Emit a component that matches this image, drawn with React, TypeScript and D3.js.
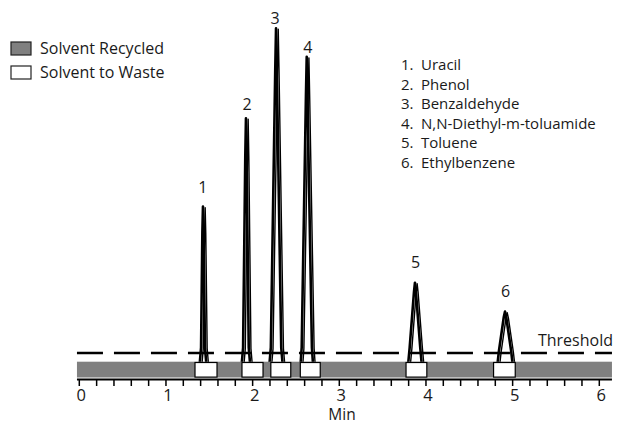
import React from 'react';
import * as d3 from 'd3';

// ---- data ----
const peakNumbers = ['1', '2', '3', '4', '5', '6'];
const compoundNames = ['Uracil', 'Phenol', 'Benzaldehyde', 'N,N-Diethyl-m-toluamide', 'Toluene', 'Ethylbenzene'];
// chromatogram trace points per peak: [time (min), signal]
const peak1: [number, number][] = [[1.385, 0], [1.405, 6], [1.42, 40], [1.427, 47.5], [1.434, 40], [1.45, 6], [1.47, 0]];
const peak2: [number, number][] = [[1.87, 0], [1.89, 6], [1.915, 62], [1.923, 73.5], [1.931, 62], [1.955, 6], [1.975, 0]];
const peak3: [number, number][] = [[2.19, 0], [2.21, 6], [2.261, 88], [2.27, 100], [2.279, 88], [2.33, 6], [2.35, 0]];
const peak4: [number, number][] = [[2.55, 0], [2.566, 6], [2.615, 80], [2.624, 91.6], [2.633, 80], [2.684, 6], [2.70, 0]];
const peak5: [number, number][] = [[3.79, 0], [3.812, 6], [3.862, 22.5], [3.873, 25.1], [3.884, 22.5], [3.934, 6], [3.955, 0]];
const peak6: [number, number][] = [[4.82, 0], [4.842, 5], [4.898, 15], [4.912, 16.6], [4.926, 15], [4.983, 5], [5.005, 0]];
const peakTraces = [peak1, peak2, peak3, peak4, peak5, peak6];
// peak label anchor: [time, signal]
const peakLabelPos: [number, number][] = [[1.424, 53.4], [1.935, 77.7], [2.258, 103.1], [2.638, 94.6], [3.881, 31.3], [4.92, 22.8]];
// solvent-to-waste windows [start, end] in min
const wasteWindows: [number, number][] = [[1.335, 1.589], [1.877, 2.12], [2.21, 2.44], [2.55, 2.78], [3.77, 4.01], [4.78, 5.03]];
const thresholdLevel = 4.4;
const majorTicks = [0, 1, 2, 3, 4, 5, 6];
const minorTicks = [0, 0.2, 0.4, 0.6, 0.8, 1, 1.2, 1.4, 1.6, 1.8, 2, 2.2, 2.4, 2.6, 2.8, 3, 3.2, 3.4, 3.6, 3.8, 4, 4.2, 4.4, 4.6, 4.8, 5, 5.2, 5.4, 5.6, 5.8, 6];
const axisDomain: [number, number] = [-0.027, 6.146];
const legendLabels = ['Solvent Recycled', 'Solvent to Waste'];

const W = 633;
const H = 423;
const FONT = "'Open Sans', 'Noto Sans', sans-serif";
const TXT = '#1a1a1a';

export default function App() {
  const x = d3.scaleLinear().domain([0, 6]).range([79.3, 599.3]);
  const y = d3.scaleLinear().domain([0, 100]).range([368, 28.3]);
  const line = d3.line<[number, number]>().x(d => x(d[0])).y(d => y(d[1]));
  const shifted = d3.line<[number, number]>().x(d => x(d[0]) + 2.2).y(d => y(d[1]) + 1);

  const x0 = x(axisDomain[0]);
  const x1 = x(axisDomain[1]);
  const bandTop = 361.7;
  const bandBot = 377.5;
  const axisY = 379.5;

  return (
    <svg width={W} height={H} style={{ position: 'absolute', left: 0, top: 0, background: '#fff' }} fontFamily={FONT}>
      {/* traces */}
      {peakTraces.map((p, i) => (
        <g key={i} fill="none" stroke="#000" strokeLinejoin="round">
          <path d={shifted(p) || ''} strokeWidth={1.4} />
          <path d={line(p) || ''} strokeWidth={2.6} />
        </g>
      ))}
      {/* threshold */}
      <line x1={x0} x2={x1} y1={y(thresholdLevel)} y2={y(thresholdLevel)} stroke="#000" strokeWidth={2.4} strokeDasharray="26 11" />
      <text x={613} y={346} textAnchor="end" fontSize={16} fill={TXT}>Threshold</text>
      {/* recycled band */}
      <rect x={x0} y={bandTop} width={x1 - x0} height={bandBot - bandTop} fill="#808080" />
      {wasteWindows.map((w, i) => (
        <rect key={i} x={x(w[0])} y={bandTop + 0.8} width={x(w[1]) - x(w[0])} height={bandBot - bandTop - 1.2} fill="#fff" stroke="#000" strokeWidth={1.2} />
      ))}
      {/* axis */}
      <line x1={x0} x2={x1} y1={axisY} y2={axisY} stroke="#000" strokeWidth={2} />
      {minorTicks.map((t, i) => (
        <line key={i} x1={x(t)} x2={x(t)} y1={axisY} y2={axisY + 6.5} stroke="#000" strokeWidth={1.5} />
      ))}
      {majorTicks.map(t => (
        <text key={t} x={x(t) + 2} y={401} textAnchor="middle" fontSize={16.5} fill={TXT}>{t}</text>
      ))}
      <text x={342} y={419.5} textAnchor="middle" fontSize={15.5} fill={TXT}>Min</text>
      {/* peak labels */}
      {peakNumbers.map((n, i) => (
        <text key={n} x={x(peakLabelPos[i][0])} y={y(peakLabelPos[i][1]) + 6} textAnchor="middle" fontSize={16} fill={TXT}>{n}</text>
      ))}
      {/* compound list */}
      {compoundNames.map((c, i) => (
        <g key={c}>
          <text x={401} y={70 + i * 19.5} fontSize={15} fill={TXT}>{peakNumbers[i]}.</text>
          <text x={421} y={70 + i * 19.5} fontSize={15} fill={TXT}>{c}</text>
        </g>
      ))}
      {/* legend */}
      {legendLabels.map((l, i) => (
        <g key={l}>
          <rect x={11} y={42 + i * 24} width={20} height={13} fill={i === 0 ? '#808080' : '#fff'} stroke="#222" strokeWidth={1.2} />
          <text x={40} y={54 + i * 24} fontSize={16} fill={TXT}>{l}</text>
        </g>
      ))}
    </svg>
  );
}
